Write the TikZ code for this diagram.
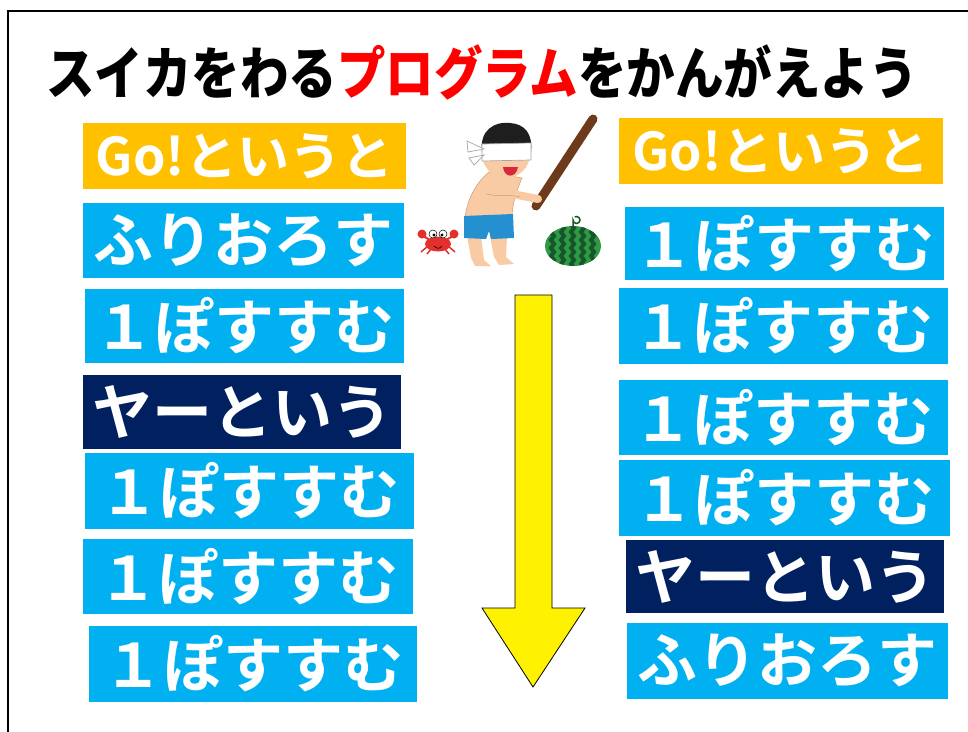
\documentclass[tikz,border=0pt]{standalone}
\usepackage{graphicx}
\usepackage{fontspec}
\newfontfamily\jpfont{Noto Sans CJK JP Bold}
\newfontfamily\jpheavy{Noto Sans CJK JP Black}

\definecolor{goorange}{HTML}{FFC000}
\definecolor{walkblue}{HTML}{00B0F0}
\definecolor{shoutnavy}{HTML}{002060}
\definecolor{skin}{HTML}{F8CBA4}
\definecolor{skinline}{HTML}{D9966E}
\definecolor{hairblack}{HTML}{1E1E1E}
\definecolor{shortsblue}{HTML}{2590CF}
\definecolor{stickbrown}{HTML}{6E3A1C}
\definecolor{mouthred}{HTML}{D8283C}
\definecolor{crabred}{HTML}{E3302C}
\definecolor{melongreen}{HTML}{2F9A45}
\definecolor{melondark}{HTML}{17562A}

\tikzset{%
	every block/.style={
		inner sep=0pt,
		text=white,
		font=\jpfont\fontsize{60}{62}\selectfont
	},
	block go/.style={
		fill=goorange,
		font=\jpfont\fontsize{52}{54}\selectfont
	},
	block walk/.style={fill=walkblue},
	block swing/.style={fill=walkblue},
	block shout/.style={fill=shoutnavy},
}

\begin{document}
\begin{tikzpicture}[x=1pt, y=-1pt]

	\useasboundingbox (0,0) rectangle (968,731);
	\draw [line width=2.5pt] (8,760) |- (990,11);

	\node [font=\jpheavy\fontsize{48.5}{50}\selectfont] (title) at (482,72)
	{\scalebox{1}[1.17]{スイカをわる\textcolor{red}{プログラム}をかんがえよう}};

	% left program
	\foreach \m/\cx/\cy/\bw/\bh/\txt [count=\y] in {
		go/244.5/156/323/66/{Go!というと},
		swing/243.5/240.5/321/75/{ふりおろす},
		walk/244.5/326/319/74/{１ぽすすむ},
		shout/242/412/318/74/{ヤーという},
		walk/249.5/491/329/76/{１ぽすすむ},
		walk/248/576.5/330/75/{１ぽすすむ},
		walk/253/664/328/76/{１ぽすすむ}}
	\node [every block/.try, block \m/.try, minimum width=\bw, minimum height=\bh]
	(left-\y) at (\cx,\cy) {\txt};

	% right program
	\foreach \m/\cx/\cy/\bw/\bh/\txt [count=\y] in {
		go/781/151/324/66/{Go!というと},
		walk/784.5/243.5/319/73/{１ぽすすむ},
		walk/783.5/326/329/76/{１ぽすすむ},
		walk/783.5/417.5/329/75/{１ぽすすむ},
		walk/784.5/498/331/76/{１ぽすすむ},
		shout/785/576.5/318/73/{ヤーという},
		swing/787.5/661/321/76/{ふりおろす}}
	\node [every block/.try, block \m/.try, minimum width=\bw, minimum height=\bh]
	(right-\y) at (\cx,\cy) {\txt};

	% order arrow
	\draw [fill=yellow, line width=0.8pt, line join=miter]
	(515,295) -- (552,295) -- (552,608) -- (585,608) -- (533,687)
	-- (482,608) -- (515,608) -- cycle;

	% boy with the stick
	\draw [stickbrown, line width=9pt, line cap=round] (593,119) -- (536,206);
	\fill [skin] (467,236) -- (481,236) -- (484,260) -- (491,266) -- (475,266) -- (471,258) -- cycle;
	\fill [skin] (490,236) -- (507,236) -- (506,257) -- (514,264) -- (499,265) -- (494,257) -- cycle;
	\filldraw [fill=skin, draw=skinline, line width=0.5pt]
	(489,172) .. controls (475,184) and (467,200) .. (465,218)
	-- (512,218) .. controls (512,205) and (516,192) .. (522,178) -- cycle;
	\fill [shortsblue] (464,216) -- (513,214) -- (514,238) -- (491,239) -- (489,231) -- (486,239) -- (464,238) -- cycle;
	\draw [skin, line width=8pt, line cap=round] (492,190) -- (538,199);
	\draw [skinline, line width=0.5pt] (486,194) .. controls (498,197) and (510,194) .. (520,197);
	\fill [skin] (506,154) circle (24);
	\fill [hairblack] (482,152) .. controls (479,130) and (495,121) .. (510,123)
	.. controls (525,124) and (533,134) .. (531,152) -- cycle;
	\filldraw [fill=white, draw=gray!70, line width=0.7pt]
	(482,144) -- (531,143) -- (531,160) -- (482,161) -- cycle;
	\filldraw [fill=white, draw=gray!70, line width=0.7pt] (484,149) -- (467,141) -- (468,152) -- cycle;
	\filldraw [fill=white, draw=gray!70, line width=0.7pt] (484,155) -- (469,158) -- (474,165) -- cycle;
	\fill [mouthred] (503,167) .. controls (504,178) and (516,179) .. (518,167) -- cycle;

	% crab
	\draw [crabred, line width=1.5pt] (428,246) -- (421,252) (432,248) -- (427,254)
	(448,246) -- (455,252) (444,248) -- (449,254);
	\draw [crabred, line width=2pt] (430,240) -- (423,236) (446,240) -- (453,236);
	\fill [crabred] (422,234) circle (4.5) (454,234) circle (4.5);
	\fill [crabred] (438,244) ellipse (13 and 7.5);
	\filldraw [fill=white, draw=black, line width=0.5pt] (433,234) circle (4) (443,234) circle (4);
	\fill [black] (434,235) circle (1.6) (442,235) circle (1.6);
	\draw [black, line width=0.6pt] (434,246) .. controls (437,249) and (440,249) .. (442,246);

	% watermelon
	\begin{scope}
		\clip (573,246) ellipse (28 and 20);
		\fill [melongreen] (540,220) rectangle (605,270);
		\foreach \sx in {551,561,...,596}
		\draw [melondark, line width=4pt, line join=miter]
		(\sx,224) -- ++(3,4) -- ++(-3,4) -- ++(3,4) -- ++(-3,4) -- ++(3,4) -- ++(-3,4)
		-- ++(3,4) -- ++(-3,4) -- ++(3,4) -- ++(-3,4) -- ++(3,4) -- ++(-3,4);
	\end{scope}
	\draw [melondark, line width=1.5pt] (573,227) -- (573,220) arc (180:-120:3.5);

\end{tikzpicture}
\end{document}
